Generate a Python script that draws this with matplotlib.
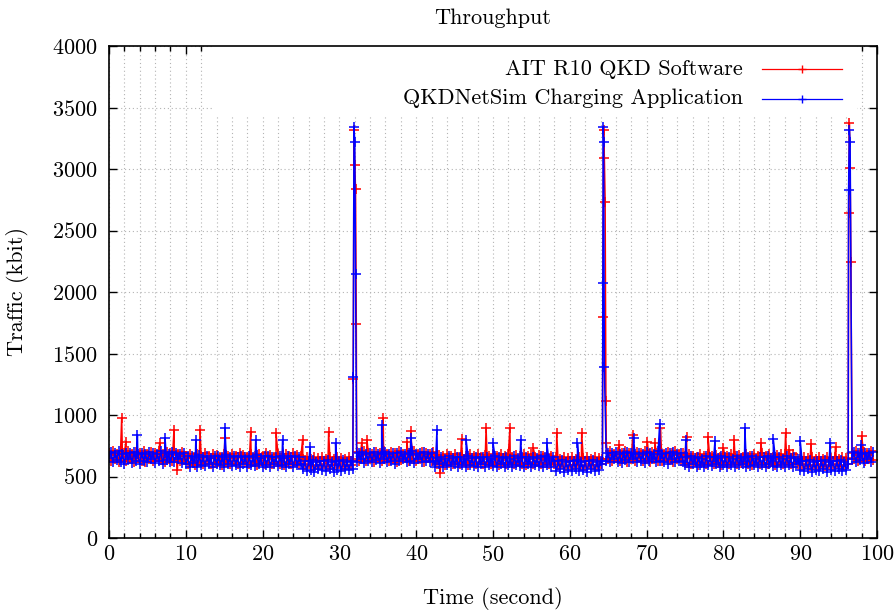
"""
Throughput: AIT R10 QKD software vs QKDNetSim charging application
"""
import numpy as np
import matplotlib
matplotlib.use('Agg')
import matplotlib.pyplot as plt
from matplotlib.ticker import MultipleLocator
from matplotlib.patches import Rectangle

plt.rcParams['font.family'] = ['cmr10', 'DejaVu Serif']
plt.rcParams['mathtext.fontset'] = 'cm'
plt.rcParams['axes.formatter.use_mathtext'] = True

# === Data (kbit), base samples every 0.25 s ===
step = 0.25
seg_start = [0, 10, 25.25, 32.0, 32.25, 42.5, 58, 64.5, 64.75, 75, 90, 96.5, 96.75]

ait_segs = [
    [690, 630, 705, 645, 680, 620, 700, 655, 690, 625, 710, 640, 685, 615, 700, 650, 695, 630, 705, 620,
     680, 645, 700, 625, 690, 655, 710, 635, 685, 620, 700, 640, 695, 630, 705, 650, 680, 625, 700, 640],
    [670, 605, 685, 620, 660, 595, 680, 615, 670, 600, 690, 625, 665, 605, 680, 610, 675, 620, 660, 595,
     685, 615, 670, 605, 680, 625, 665, 600, 690, 610, 675, 620, 660, 600, 685, 615, 670, 595, 680, 625,
     665, 605, 690, 610, 675, 600, 660, 620, 685, 605, 670, 595, 680, 615, 665, 605, 690, 620, 675, 600,
     670],
    [640, 590, 655, 600, 645, 585, 660, 595, 650, 590, 655, 600, 640, 585, 660, 595, 645, 590, 655, 600,
     650, 585, 640, 595, 660, 590, 645],
    [3030],
    [700, 630, 690, 645, 710, 625, 695, 640, 685, 620, 700, 650, 690, 630, 705, 640, 680, 625, 700, 645,
     690, 620, 705, 635, 685, 650, 700, 625, 690, 640, 710, 630, 685, 645, 700, 620, 695, 650, 680, 630,
     700],
    [660, 605, 675, 620, 665, 595, 680, 610, 670, 600, 685, 620, 660, 605, 675, 615, 665, 595, 680, 610,
     670, 605, 685, 620, 660, 600, 675, 615, 670, 600, 680, 620, 665, 595, 685, 610, 670, 605, 680, 615,
     660, 600, 675, 620, 665, 605, 685, 595, 670, 615, 680, 605, 660, 620, 675, 600, 665, 610, 685, 600,
     670, 615],
    [600, 655, 590, 645, 600, 660, 585, 650, 595, 655, 590, 645, 600, 660, 590, 650, 585, 655, 600, 645,
     595, 660, 590, 650, 600, 640],
    [3090],
    [770, 640, 705, 625, 685, 650, 700, 630, 690, 645, 710, 620, 695, 640, 685, 630, 700, 650, 690, 625,
     705, 640, 680, 620, 700, 645, 690, 630, 710, 625, 685, 650, 700, 635, 690, 620, 705, 645, 680, 630,
     695],
    [665, 610, 680, 600, 670, 620, 660, 595, 685, 615, 670, 605, 680, 625, 665, 600, 675, 610, 660, 595,
     685, 620, 670, 605, 680, 615, 665, 600, 675, 610, 660, 620, 685, 600, 670, 595, 680, 615, 665, 605,
     690, 610, 670, 600, 680, 620, 660, 595, 675, 615, 685, 605, 665, 620, 670, 600, 680, 610, 660, 605],
    [645, 590, 655, 600, 650, 585, 660, 595, 645, 590, 655, 600, 640, 585, 660, 595, 650, 590, 655, 600,
     645, 585, 660, 595, 650, 600],
    [3010],
    [690, 640, 705, 630, 695, 650, 700, 625, 690, 645, 705, 635],
]

sim_segs = [
    [650, 700, 615, 690, 635, 705, 620, 680, 605, 695, 640, 690, 610, 700, 625, 685, 600, 695, 630, 680,
     615, 700, 640, 690, 610, 685, 625, 705, 605, 690, 635, 680, 615, 700, 620, 690, 640, 685, 610, 695],
    [600, 665, 580, 670, 610, 655, 575, 675, 595, 660, 585, 670, 605, 650, 580, 665, 600, 670, 590, 655,
     580, 675, 600, 660, 585, 670, 595, 655, 580, 665, 600, 660, 575, 670, 590, 655, 585, 675, 600, 650,
     580, 665, 595, 670, 575, 660, 600, 655, 585, 670, 590, 650, 580, 665, 600, 660, 575, 670, 590, 655,
     600],
    [560, 630, 545, 625, 555, 635, 540, 620, 560, 630, 550, 625, 545, 635, 560, 620, 540, 630, 555, 625,
     545, 635, 560, 620, 550, 630, 560],
    [3220],
    [620, 690, 640, 700, 610, 685, 630, 695, 620, 700, 635, 680, 610, 690, 640, 700, 615, 685, 630, 695,
     605, 690, 625, 700, 640, 680, 615, 695, 630, 705, 610, 685, 640, 690, 620, 700, 630, 680, 615, 695,
     625],
    [580, 650, 600, 660, 575, 645, 590, 665, 585, 650, 600, 655, 575, 660, 590, 645, 580, 665, 595, 650,
     585, 660, 575, 650, 600, 655, 580, 660, 590, 645, 585, 665, 575, 655, 600, 650, 580, 660, 590, 645,
     575, 665, 595, 650, 585, 660, 580, 655, 600, 645, 575, 660, 590, 650, 585, 665, 580, 655, 595, 645,
     580, 660],
    [630, 545, 625, 560, 635, 540, 620, 555, 630, 545, 625, 560, 635, 545, 620, 550, 630, 540, 625, 560,
     635, 545, 620, 555, 630, 600],
    [1390],
    [630, 695, 615, 690, 640, 700, 620, 685, 610, 695, 635, 700, 620, 690, 640, 680, 615, 695, 630, 685,
     610, 700, 625, 690, 640, 685, 615, 705, 630, 680, 620, 695, 605, 690, 640, 700, 615, 685, 630, 695,
     620],
    [590, 655, 575, 665, 600, 650, 580, 660, 590, 645, 575, 665, 595, 655, 585, 660, 600, 650, 575, 665,
     590, 655, 580, 660, 595, 645, 580, 665, 590, 650, 600, 660, 575, 655, 585, 670, 595, 645, 580, 660,
     590, 655, 575, 665, 600, 650, 585, 660, 580, 655, 595, 645, 575, 665, 590, 650, 580, 660, 600, 645],
    [555, 630, 545, 625, 560, 635, 540, 620, 555, 630, 545, 625, 560, 635, 540, 620, 550, 630, 545, 625,
     560, 635, 545, 620, 555, 600],
    [3220],
    [640, 700, 620, 690, 635, 685, 610, 695, 640, 690, 620, 700],
]

# extra samples between the base ones: peaks and isolated bursts
ait_extra_t = [1.65, 2.2, 6.6, 8.46, 8.9, 11.85, 15.1, 18.45, 21.75, 25.2, 28.6,
               31.8, 31.9, 32.1, 32.2, 32.9, 33.6, 35.7, 38.8, 39.3, 43.1, 45.9,
               49.1, 52.2, 55.25, 58.3, 61.55, 64.3, 64.4, 64.6, 64.7,
               66.45, 68.2, 70.1, 71.1, 71.8, 75.2, 78.0, 80.0, 81.4, 84.9, 88.1,
               88.6, 91.4, 94.6, 96.3, 96.4, 96.6, 98.0]
ait_extra_v = [975, 783, 770, 878, 553, 878, 810, 865, 851, 797, 865,
               1290, 3320, 2840, 1740, 770, 797, 978, 783, 872, 526, 802,
               892, 892, 729, 851, 851, 1800, 3320, 2730, 1110,
               756, 837, 783, 770, 892, 824, 824, 729, 797, 775, 851,
               716, 762, 742, 2640, 3370, 2240, 829]

sim_extra_t = [3.7, 7.3, 11.3, 15.1, 19.1, 22.6, 26.2, 29.5, 31.8, 31.9, 32.1,
               35.5, 39.3, 42.7, 46.5, 50.0, 53.6, 57.0, 61.0, 64.3, 64.35, 64.4,
               68.3, 71.7, 75.1, 78.9, 82.8, 86.5, 90.0, 93.9, 96.3, 96.4, 97.9]
sim_extra_v = [837, 810, 797, 892, 797, 797, 742, 770, 1310, 3340, 2150,
               919, 810, 878, 797, 775, 797, 775, 770, 2070, 3340, 3220,
               810, 927, 797, 789, 892, 802, 791, 775, 2830, 3320, 756]


def merge(segs, extra_t, extra_v):
    t = [s + np.arange(len(v)) * step for s, v in zip(seg_start, segs)]
    t = np.concatenate(t + [np.asarray(extra_t)])
    v = np.concatenate([np.asarray(s, float) for s in segs] + [np.asarray(extra_v, float)])
    order = np.argsort(t, kind='stable')
    return t[order], v[order]


t_ait, v_ait = merge(ait_segs, ait_extra_t, ait_extra_v)
t_sim, v_sim = merge(sim_segs, sim_extra_t, sim_extra_v)

# === Plot ===
FS = 16
fig = plt.figure(figsize=(8.95, 6.10), dpi=100)
ax = fig.add_axes([109 / 895, 72 / 610, 768 / 895, 492 / 610])

style = dict(lw=1.1, marker='+', ms=6.8, mew=1.1, zorder=2)
ax.plot(t_ait, v_ait, color='#ff0000', **style)
ax.plot(t_sim, v_sim, color='#0000ff', **style)

ax.set_xlim(0, 100)
ax.set_ylim(0, 4000)
ax.xaxis.set_major_locator(MultipleLocator(10))
ax.xaxis.set_minor_locator(MultipleLocator(2))
ax.yaxis.set_major_locator(MultipleLocator(500))
ax.tick_params(which='both', direction='in', top=True, right=True, labelsize=FS, width=1.0)
ax.tick_params(which='major', length=6)
ax.tick_params(which='minor', length=3.5)
ax.tick_params(axis='x', pad=5)
ax.tick_params(axis='y', pad=8)
for s in ax.spines.values():
    s.set_linewidth(1.2)

grid_kw = dict(color='#b4b4b4', linestyle=(0, (1, 2.5)), linewidth=0.8)
ax.grid(True, which='minor', axis='x', **grid_kw)
ax.grid(True, which='major', axis='both', **grid_kw)
ax.set_axisbelow(True)

# opaque key box
ax.add_patch(Rectangle((0.134, 0.858), 0.84, 0.142, transform=ax.transAxes,
                       facecolor='white', edgecolor='none', zorder=1.8))
for y, lab, col in [(0.953, 'AIT R10 QKD Software', '#ff0000'),
                    (0.893, 'QKDNetSim Charging Application', '#0000ff')]:
    ax.text(0.8255, y, lab, transform=ax.transAxes, ha='right', va='center',
            fontsize=FS, zorder=3)
    ax.plot([0.850, 0.954], [y, y], transform=ax.transAxes, color=col, lw=0.9, zorder=3)
    ax.plot([0.902], [y], transform=ax.transAxes, color=col, marker='+', ms=6.3,
            mew=1.0, zorder=3)

fig.text(493 / 895, 1 - 18 / 610, 'Throughput', fontsize=FS, ha='center', va='center')
fig.text(493 / 895, 1 - 598 / 610, 'Time (second)', fontsize=FS, ha='center', va='center')
fig.text(18 / 895, 1 - 292 / 610, 'Traffic (kbit)', fontsize=FS, ha='center', va='center',
         rotation=90)

plt.savefig('out.png', dpi=100)
plt.close()
